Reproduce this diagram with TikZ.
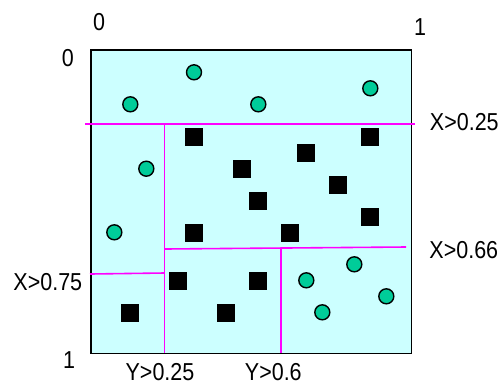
\documentclass[tikz,border=0pt]{standalone}
\usepackage{fontspec}
\setmainfont{Liberation Sans}
\definecolor{boxfill}{HTML}{CCFFFF}
\definecolor{splitcol}{HTML}{FF00FF}
\definecolor{dotfill}{HTML}{00CC99}
\begin{document}
\begin{tikzpicture}[x=1pt,y=-1pt,
  lbl/.style={inner sep=0pt,font=\fontsize{21.5}{24}\selectfont},
  dot/.style={circle,draw=black,line width=1.4pt,fill=dotfill,minimum size=15pt,inner sep=0pt},
  sq/.style={rectangle,fill=black,minimum size=18pt,inner sep=0pt},
  split/.style={draw=splitcol,line width=1.6pt}]
\useasboundingbox (0,0) rectangle (502,384);
\node[draw=black,line width=1.6pt,fill=boxfill,minimum width=320.7pt,minimum height=303.7pt,inner sep=0pt,anchor=north west] (box) at (90,49) {};
% split lines
\coordinate (a1) at (85,124); \coordinate (a2) at (415,124);
\coordinate (b1) at (164.3,124); \coordinate (b2) at (164.3,352.7);
\coordinate (c1) at (164.3,249); \coordinate (c2) at (406,247);
\coordinate (d1) at (90,274); \coordinate (d2) at (164.3,273);
\coordinate (e1) at (281,248); \coordinate (e2) at (281,352.7);
\draw[split] (a1) -- (a2);
\draw[split] (b1) -- (b2);
\draw[split] (c1) -- (c2);
\draw[split] (d1) -- (d2);
\draw[split] (e1) -- (e2);
% circles
\foreach \n/\x/\y in {c1/194/72.3,c2/130.3/104.3,c3/258.3/104.3,c4/370.3/88.3,c5/146.3/168.7,c6/114.3/232.3,c7/306.3/280.3,c8/354.3/264.3,c9/386.3/296.3,c10/322.3/312.3}
  \node[dot] (\n) at (\x,\y) {};
% squares
\foreach \n/\x/\y in {s1/194.3/136.7,s2/370.3/136.7,s3/306.3/152.7,s4/242.3/168.7,s5/338.3/184.7,s6/258.3/200.7,s7/370.3/216.7,s8/194.3/232.7,s9/290.3/232.7,s10/178.3/280.7,s11/258.3/280.7,s12/130.3/312.7,s13/226.3/312.7}
  \node[sq] (\n) at (\x,\y) {};
% labels
\node[lbl] (t0) at (99,21.7) {\scalebox{1}[1.14]{0}};
\node[lbl] (t1) at (420,26.7) {\scalebox{1}[1.14]{1}};
\node[lbl] (l0) at (67.8,58) {\scalebox{1}[1.14]{0}};
\node[lbl] (l1) at (69,360) {\scalebox{1}[1.14]{1}};
\node[lbl] (x25) at (464.3,121.7) {\scalebox{1}[1.14]{X>0.25}};
\node[lbl] (x66) at (463.8,250.5) {\scalebox{1}[1.14]{X>0.66}};
\node[lbl] (x75) at (47.8,282.5) {\scalebox{1}[1.14]{X>0.75}};
\node[lbl] (y25) at (160,372.3) {\scalebox{1}[1.14]{Y>0.25}};
\node[lbl] (y6) at (273.3,372.3) {\scalebox{1}[1.14]{Y>0.6}};
\end{tikzpicture}
\end{document}
